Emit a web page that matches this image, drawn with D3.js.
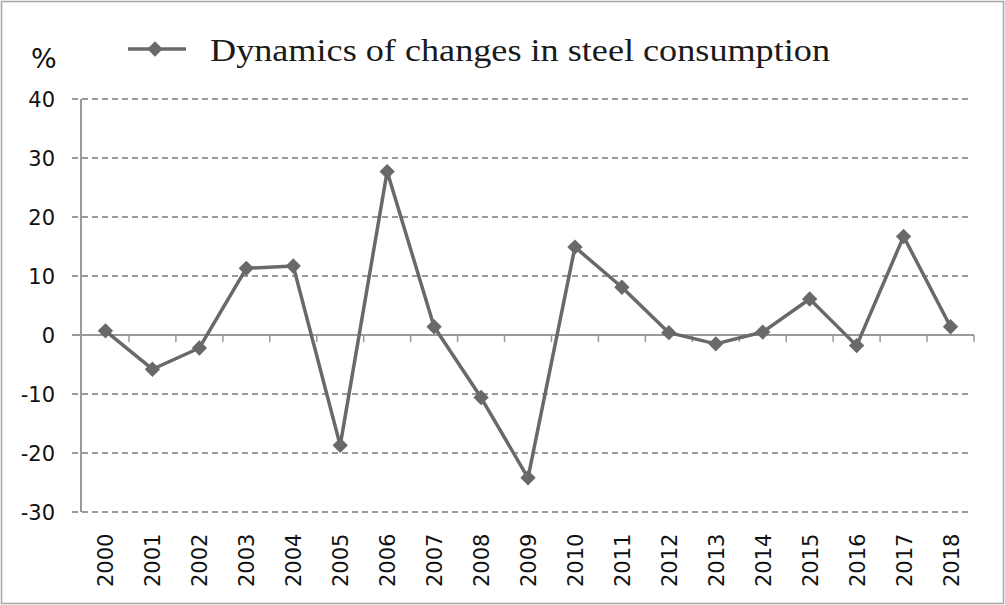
<!DOCTYPE html>
<html>
<head>
<meta charset="utf-8">
<script src="https://cdn.jsdelivr.net/npm/d3@7"></script>
<style>
	body { margin: 0; background: #fff; }
	svg { display: block; }
</style>
</head>
<body>
<script>
// DATA
const years = ['2000', '2001', '2002', '2003', '2004', '2005', '2006', '2007', '2008', '2009',
	'2010', '2011', '2012', '2013', '2014', '2015', '2016', '2017', '2018'];
const changes = [0.7, -5.8, -2.2, 11.3, 11.7, -18.7, 27.7, 1.4, -10.6, -24.2,
	14.9, 8.1, 0.4, -1.5, 0.5, 6.1, -1.8, 16.7, 1.4];
const yTicks = [40, 30, 20, 10, 0, -10, -20, -30];
const seriesName = 'Dynamics of changes in steel consumption';
const unitLabel = '%';

// CONFIGURATION
const width = 1005;
const height = 605;
const plotLeft = 81;
const plotRight = 974;
const plotTop = 99;
const plotBottom = 512;
const lineColor = '#696969';
const gridColor = '#999999';

const xScale = d3.scaleBand()
	.domain(years)
	.range([82, plotRight]);
const yScale = d3.scaleLinear()
	.domain([-30, 40])
	.range([plotBottom, plotTop]);

const svg = d3.select('body')
	.append('svg')
	.attr('width', width)
	.attr('height', height);

// FRAME
svg.append('rect')
	.attr('x', 1.5)
	.attr('y', 1.5)
	.attr('width', width - 3)
	.attr('height', height - 3)
	.attr('fill', '#fff')
	.attr('stroke', '#a6a6a6')
	.attr('stroke-width', 1.5);

// GRID + Y AXIS
const yAxis = d3.axisLeft(yScale)
	.tickValues(yTicks)
	.tickSize(0)
	.tickPadding(0)
	.tickFormat(function(t) { return String(t); });
const gy = svg.append('g')
	.attr('transform', `translate(${plotLeft}, 0)`)
	.call(yAxis);
gy.select('.domain').remove();
gy.selectAll('text')
	.attr('x', -26)
	.attr('dy', '0.36em')
	.attr('fill', '#111')
	.style('font-family', 'DejaVu Sans, sans-serif')
	.style('font-size', '21px');

svg.append('g')
	.selectAll('line')
	.data(yTicks.filter(function(t) { return t !== 0; }))
	.enter()
	.append('line')
	.attr('x1', 72)
	.attr('x2', 970)
	.attr('y1', function(t) { return yScale(t); })
	.attr('y2', function(t) { return yScale(t); })
	.attr('stroke', gridColor)
	.attr('stroke-width', 2)
	.attr('stroke-dasharray', '6,4');

svg.append('line')
	.attr('x1', plotLeft)
	.attr('x2', plotLeft)
	.attr('y1', plotTop)
	.attr('y2', plotBottom)
	.attr('stroke', gridColor)
	.attr('stroke-width', 2);

// X AXIS (at zero)
svg.append('line')
	.attr('x1', 72)
	.attr('x2', plotRight)
	.attr('y1', yScale(0))
	.attr('y2', yScale(0))
	.attr('stroke', gridColor)
	.attr('stroke-width', 2);

svg.append('g')
	.selectAll('line')
	.data(years.slice(1).concat(['end']))
	.enter()
	.append('line')
	.attr('x1', function(d) { return d === 'end' ? plotRight : xScale(d); })
	.attr('x2', function(d) { return d === 'end' ? plotRight : xScale(d); })
	.attr('y1', yScale(0))
	.attr('y2', yScale(0) + 7)
	.attr('stroke', gridColor)
	.attr('stroke-width', 1.5);

// YEAR LABELS
svg.append('g')
	.selectAll('text')
	.data(years)
	.enter()
	.append('text')
	.attr('transform', function(d) {
		return `translate(${xScale(d) + xScale.bandwidth() / 2 + 8}, 587) rotate(-90)`;
	})
	.attr('text-anchor', 'start')
	.style('font-family', 'DejaVu Sans, sans-serif')
	.style('font-size', '21px')
	.attr('fill', '#111')
	.text(function(d) { return d; });

// LINE
const line = d3.line()
	.x(function(d, i) { return xScale(years[i]) + xScale.bandwidth() / 2; })
	.y(function(d) { return yScale(d); });

svg.append('path')
	.datum(changes)
	.attr('d', line)
	.attr('fill', 'none')
	.attr('stroke', lineColor)
	.attr('stroke-width', 3.5)
	.attr('stroke-linejoin', 'round');

const diamond = d3.symbol().type(d3.symbolDiamond2).size(150);

svg.append('g')
	.selectAll('path')
	.data(changes)
	.enter()
	.append('path')
	.attr('d', diamond)
	.attr('transform', function(d, i) {
		return `translate(${xScale(years[i]) + xScale.bandwidth() / 2}, ${yScale(d)})`;
	})
	.attr('fill', lineColor);

// LEGEND
svg.append('text')
	.attr('x', 31)
	.attr('y', 68)
	.style('font-family', 'DejaVu Sans, sans-serif')
	.style('font-size', '27px')
	.attr('fill', '#111')
	.text(unitLabel);

svg.append('line')
	.attr('x1', 128)
	.attr('x2', 186)
	.attr('y1', 49)
	.attr('y2', 49)
	.attr('stroke', lineColor)
	.attr('stroke-width', 3.5);
svg.append('path')
	.attr('d', diamond)
	.attr('transform', 'translate(155, 49)')
	.attr('fill', lineColor);

svg.append('text')
	.attr('x', 210)
	.attr('y', 61)
	.attr('textLength', 620)
	.attr('lengthAdjust', 'spacingAndGlyphs')
	.style('font-family', 'Liberation Serif, serif')
	.style('font-size', '32px')
	.attr('fill', '#1a1a1a')
	.text(seriesName);
</script>
</body>
</html>
